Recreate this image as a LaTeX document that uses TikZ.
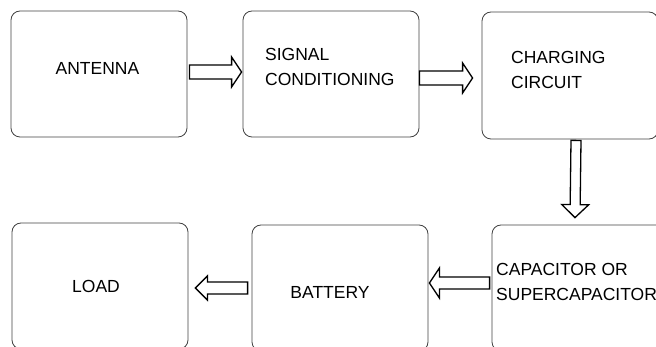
\documentclass[tikz,border=0pt]{standalone}
\usepackage{fontspec}
\setmainfont{Liberation Sans}
\usetikzlibrary{calc}

\tikzset{
  blk/.style={draw=black!75, line width=0.8pt, rounded corners=9pt,
    minimum width=176pt, minimum height=126pt, inner sep=0pt},
  lbl/.style={font=\fontsize{17.5}{25}\selectfont, align=left, inner sep=0pt},
  % hollow block arrow: shaft half width, head half width, head length
  hollow/.style n args={3}{draw=black, fill=white, line width=1.3pt,
    to path={($(\tikztostart)!#1!90:(\tikztotarget)$)
      -- ($(\tikztotarget)!#3!(\tikztostart)!#1!-90:(\tikztostart)$)
      -- ($(\tikztotarget)!#3!(\tikztostart)!#2!-90:(\tikztostart)$)
      -- (\tikztotarget)
      -- ($(\tikztotarget)!#3!(\tikztostart)!#2!90:(\tikztostart)$)
      -- ($(\tikztotarget)!#3!(\tikztostart)!#1!90:(\tikztostart)$)
      -- ($(\tikztostart)!#1!-90:(\tikztotarget)$) -- cycle}}
}

\begin{document}
\begin{tikzpicture}[x=1pt, y=-1pt]
    \useasboundingbox (0,0) rectangle (656,347);
    \clip (0,0) rectangle (656,347);

    % top row
    \node[blk] (ant) at (99,74) {};
    \node[blk] (sig) at (331,74) {};
    \node[blk, minimum height=127pt] (chg) at (570,75.5) {};

    % bottom row
    \node[blk] (load) at (100,286) {};
    \node[blk] (bat) at (340,288) {};
    \node[blk] (cap) at (580,288) {};

    \node[lbl] (anttxt) at (97.5,68) {ANTENNA};
    \node[lbl, anchor=west] (sigtxt) at (265,67) {SIGNAL\\CONDITIONING};
    \node[lbl, anchor=west] (chgtxt) at (511,70) {CHARGING\\CIRCUIT};
    \node[lbl] (loadtxt) at (96,286) {LOAD};
    \node[lbl] (battxt) at (330,292) {BATTERY};
    \node[lbl, anchor=west] (captxt) at (496,282) {CAPACITOR OR\\SUPERCAPACITOR};

    \draw[hollow={7pt}{15pt}{10pt}] ([xshift=2pt,yshift=2pt]ant.east) to ([xshift=-1pt,yshift=2pt]sig.west);
    \draw[hollow={7pt}{15pt}{10pt}] ([yshift=-4pt]sig.east) to ([xshift=-9pt,yshift=-2.5pt]chg.west);
    \draw[hollow={5pt}{13.5pt}{13pt}] ([xshift=6pt,yshift=-1pt]chg.south) to ([xshift=-5pt,yshift=7pt]cap.north);
    \draw[hollow={6pt}{15pt}{10pt}] ([xshift=-2pt,yshift=5pt]cap.west) to ([xshift=1pt,yshift=5pt]bat.east);
    \draw[hollow={6pt}{12pt}{12pt}] ([xshift=-4pt]bat.west) to ([xshift=7pt,yshift=-2pt]load.east);
\end{tikzpicture}
\end{document}
